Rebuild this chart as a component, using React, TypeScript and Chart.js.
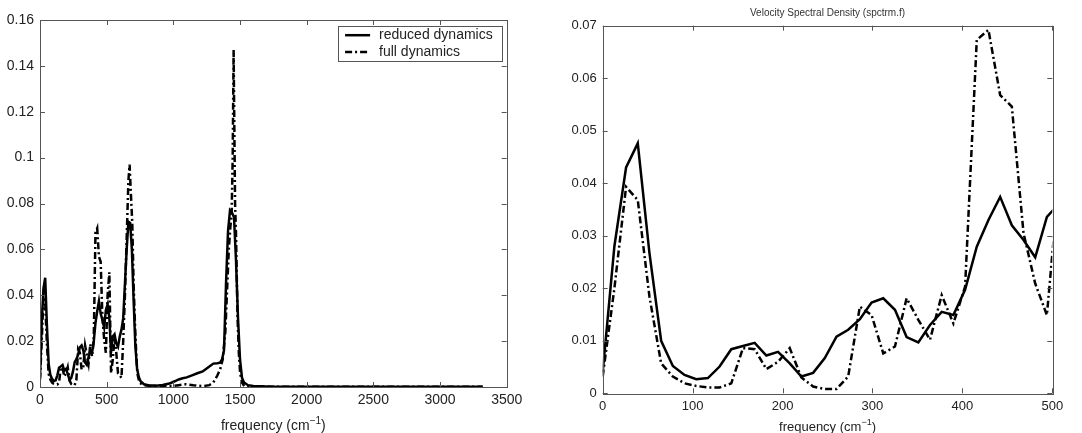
import React, { useEffect, useRef } from "react";
import { Chart, registerables } from "chart.js";

Chart.register(...registerables);

const FONT = "'Liberation Sans', Arial, Helvetica, sans-serif";

// reduced dynamics (solid)
const reducedFreq = [
  0, 13, 26, 39, 52, 65, 78, 91, 104, 117, 130, 143, 156, 169, 182, 195, 208, 221, 234, 247,
  260, 273, 286, 299, 312, 325, 338, 351, 364, 377, 390, 403, 416, 429, 442, 455, 468, 481, 494, 507,
  520, 533, 546, 559, 572, 585, 598, 611, 624, 637, 650, 663, 676, 689, 702, 715, 728, 741, 754, 780,
  820, 870, 920, 970, 1010, 1040, 1070, 1100, 1140, 1180, 1220, 1260, 1300, 1330, 1350, 1365, 1380, 1395,
  1410, 1425, 1440, 1455, 1470, 1485, 1500, 1515, 1530, 1560, 1600, 1700, 2000, 2500, 3000, 3320,
];
const reducedPsd = [
  0.004, 0.028, 0.043, 0.0476, 0.0267, 0.01, 0.0052, 0.0035, 0.0027, 0.0029, 0.0051, 0.0084, 0.009, 0.0096, 0.0072, 0.0079, 0.0057, 0.0032, 0.0039, 0.0067,
  0.0108, 0.0121, 0.0141, 0.0173, 0.0181, 0.0159, 0.0107, 0.0097, 0.013, 0.0155, 0.0149, 0.0197, 0.0279, 0.033, 0.0374, 0.032, 0.0292, 0.0259, 0.0336, 0.036,
  0.03, 0.015, 0.022, 0.023, 0.019, 0.0175, 0.022, 0.025, 0.03, 0.045, 0.06, 0.072, 0.0715, 0.06, 0.038, 0.018, 0.008, 0.0044, 0.0025, 0.0012,
  0.0007, 0.0006, 0.0009, 0.0015, 0.0025, 0.0033, 0.0038, 0.0042, 0.0051, 0.006, 0.0068, 0.0085, 0.0102, 0.0104, 0.0106, 0.012, 0.016, 0.045,
  0.068, 0.077, 0.076, 0.074, 0.055, 0.03, 0.012, 0.004, 0.002, 0.0008, 0.0004, 0.0002, 0.0001, 0.0001, 0.0001, 0.0001,
];

// full dynamics (dash-dot)
const fullFreq = [
  0, 13, 26, 39, 52, 65, 78, 91, 104, 117, 130, 143, 156, 169, 182, 195, 208, 221, 234, 247,
  260, 273, 286, 299, 312, 325, 338, 351, 364, 377, 390, 403, 416, 429, 442, 455, 468, 481, 494, 507,
  520, 533, 546, 559, 572, 585, 598, 611, 624, 637, 650, 663, 672, 681, 692, 702, 712, 722, 730, 745,
  767, 800, 850, 900, 950, 989, 1040, 1092, 1150, 1222, 1270, 1300, 1330, 1351, 1370, 1390, 1405, 1416,
  1428, 1437, 1445, 1452, 1458, 1463, 1470, 1481, 1491, 1501, 1515, 1532, 1600, 2000, 3320,
];
const fullPsd = [
  0.0032, 0.02, 0.0393, 0.0368, 0.0184, 0.0057, 0.0032, 0.0019, 0.0014, 0.0011, 0.0011, 0.0019, 0.0086, 0.0084, 0.0046, 0.006, 0.0086, 0.003, 0.0013, 0.0008,
  0.0008, 0.0032, 0.0165, 0.0149, 0.0076, 0.0089, 0.0181, 0.014, 0.0102, 0.0187, 0.0133, 0.0203, 0.0673, 0.0692, 0.0568, 0.0546, 0.0305, 0.0209, 0.0149, 0.04,
  0.05, 0.006, 0.012, 0.022, 0.015, 0.006, 0.005, 0.004, 0.02, 0.04, 0.065, 0.09, 0.097, 0.085, 0.0715, 0.045, 0.028, 0.014, 0.006, 0.002,
  0.001, 0.0006, 0.0004, 0.0004, 0.0005, 0.0004, 0.0008, 0.0012, 0.0008, 0.0004, 0.0008, 0.002, 0.005, 0.0077, 0.012, 0.024, 0.045, 0.06,
  0.07, 0.075, 0.1, 0.147, 0.11, 0.08, 0.067, 0.031, 0.015, 0.006, 0.002, 0.0004, 0.0002, 0.0001, 0.0001,
];

const seriesLabels = ["reduced dynamics", "full dynamics"];
const xTitleMain = "frequency (cm";
const xTitleSup = "\u22121";
const xTitleEnd = ")";
const rightTitle = "Velocity Spectral Density (spctrm.f)";

const leftX = { min: 0, max: 3500, step: 500 };
const leftY = { min: 0, max: 0.16, step: 0.02 };
const rightX = { min: 0, max: 500, step: 100 };
const rightY = { min: 0, max: 0.07, step: 0.01 };

const DASHDOT = [7, 3, 2, 3];

function makeDatasets() {
  return [
    {
      label: seriesLabels[0],
      data: reducedFreq.map((f, i) => ({ x: f, y: reducedPsd[i] })),
      borderColor: "#000",
      borderWidth: 2.5,
      pointRadius: 0,
      tension: 0,
      fill: false,
    },
    {
      label: seriesLabels[1],
      data: fullFreq.map((f, i) => ({ x: f, y: fullPsd[i] })),
      borderColor: "#000",
      borderWidth: 2.5,
      borderDash: DASHDOT,
      pointRadius: 0,
      tension: 0,
      fill: false,
    },
  ];
}

const framePlugin = {
  id: "frame",
  afterDatasetsDraw(chart: any) {
    const { ctx, chartArea } = chart;
    const { left, right, top, bottom } = chartArea;
    const x = chart.scales.x;
    const y = chart.scales.y;
    ctx.save();
    ctx.strokeStyle = "#555";
    ctx.lineWidth = 1;
    ctx.setLineDash([]);
    ctx.strokeRect(Math.round(left) + 0.5, Math.round(top) + 0.5, Math.round(right - left), Math.round(bottom - top));
    const L = 5;
    ctx.beginPath();
    x.ticks.forEach((t: any) => {
      const px = Math.round(x.getPixelForValue(t.value)) + 0.5;
      ctx.moveTo(px, bottom);
      ctx.lineTo(px, bottom - L);
      ctx.moveTo(px, top);
      ctx.lineTo(px, top + L);
    });
    y.ticks.forEach((t: any) => {
      const py = Math.round(y.getPixelForValue(t.value)) + 0.5;
      ctx.moveTo(left, py);
      ctx.lineTo(left + L, py);
      ctx.moveTo(right, py);
      ctx.lineTo(right - L, py);
    });
    ctx.stroke();
    ctx.restore();
  },
};

const xTitlePlugin = {
  id: "xTitle",
  afterDraw(chart: any, _a: any, opts: any) {
    const { ctx, chartArea } = chart;
    const size = opts.size || 13;
    ctx.save();
    ctx.fillStyle = "#222";
    ctx.textBaseline = "alphabetic";
    ctx.textAlign = "left";
    ctx.font = `${size}px ${FONT}`;
    const w1 = ctx.measureText(xTitleMain).width;
    const w3 = ctx.measureText(xTitleEnd).width;
    const supSize = Math.round(size * 0.72);
    ctx.font = `${supSize}px ${FONT}`;
    const w2 = ctx.measureText(xTitleSup).width;
    const total = w1 + w2 + w3;
    const cx = (chartArea.left + chartArea.right) / 2;
    const base = opts.baseline;
    let x0 = cx - total / 2;
    ctx.font = `${size}px ${FONT}`;
    ctx.fillText(xTitleMain, x0, base);
    ctx.font = `${supSize}px ${FONT}`;
    ctx.fillText(xTitleSup, x0 + w1, base - size * 0.45);
    ctx.font = `${size}px ${FONT}`;
    ctx.fillText(xTitleEnd, x0 + w1 + w2, base);
    ctx.restore();
  },
};

const legendPlugin = {
  id: "boxLegend",
  afterDraw(chart: any, _args: any, opts: any) {
    if (!opts || !opts.show) return;
    const { ctx, chartArea } = chart;
    const ds = chart.data.datasets;
    ctx.save();
    ctx.font = `14px ${FONT}`;
    const textW = Math.max(...ds.map((d: any) => ctx.measureText(d.label).width));
    const padL = 7, lineLen = 25, gap = 9, padR = 9, rowH = 16.7, padT = 1;
    const w = padL + lineLen + gap + textW + padR;
    const h = 35.3;
    const bx = chartArea.right - 5 - w;
    const by = chartArea.top + 5.7;
    ctx.fillStyle = "#fff";
    ctx.fillRect(bx, by, w, h);
    ctx.strokeStyle = "#555";
    ctx.lineWidth = 1;
    ctx.strokeRect(Math.round(bx) + 0.5, Math.round(by) + 0.5, Math.round(w), Math.round(h));
    ds.forEach((d: any, i: number) => {
      const cy = by + padT + 8.5 + i * rowH;
      ctx.strokeStyle = d.borderColor;
      ctx.lineWidth = d.borderWidth;
      ctx.setLineDash(d.borderDash || []);
      ctx.beginPath();
      ctx.moveTo(bx + padL, cy);
      ctx.lineTo(bx + padL + lineLen, cy);
      ctx.stroke();
      ctx.setLineDash([]);
      ctx.fillStyle = "#222";
      ctx.textBaseline = "middle";
      ctx.textAlign = "left";
      ctx.fillText(d.label, bx + padL + lineLen + gap, cy);
    });
    ctx.restore();
  },
};

function fmt(v: number) {
  return String(Number(v.toFixed(3)));
}

function buildConfig(kind: "left" | "right"): any {
  const isLeft = kind === "left";
  const xr = isLeft ? leftX : rightX;
  const yr = isLeft ? leftY : rightY;
  const yWidth = isLeft ? 40 : 62.7;
  const xHeight = isLeft ? 46 : 39.7;
  const fs = isLeft ? 14 : 13;
  return {
    type: "line",
    data: { datasets: makeDatasets() },
    plugins: [framePlugin, legendPlugin, xTitlePlugin],
    options: {
      responsive: false,
      animation: false,
      devicePixelRatio: 1,
      layout: {
        padding: isLeft
          ? { top: 20, right: 33.3, left: 0, bottom: 0 }
          : { top: 0, right: 29.7, left: 0, bottom: 0 },
      },
      plugins: {
        legend: { display: false },
        tooltip: { enabled: false },
        title: isLeft
          ? { display: false }
          : {
              display: true,
              text: rightTitle,
              fullSize: false,
              color: "#333",
              font: { size: 10, family: FONT, weight: "normal" },
              padding: { top: 7, bottom: 6.7 },
            },
        boxLegend: { show: isLeft },
        xTitle: { size: fs, baseline: isLeft ? 430 : 430.5 },
      },
      scales: {
        x: {
          type: "linear",
          min: xr.min,
          max: xr.max,
          afterFit: (s: any) => {
            s.height = xHeight;
          },
          ticks: {
            stepSize: xr.step,
            color: "#222",
            font: { size: fs, family: FONT },
            padding: 5,
            maxRotation: 0,
            autoSkip: false,
            callback: (v: number) => fmt(v),
          },
          grid: { display: false, drawTicks: false },
          border: { display: false },
          title: { display: false },
        },
        y: {
          type: "linear",
          min: yr.min,
          max: yr.max,
          afterFit: (s: any) => {
            s.width = yWidth;
          },
          ticks: {
            stepSize: yr.step,
            color: "#222",
            font: { size: fs, family: FONT },
            padding: 6,
            autoSkip: false,
            callback: (v: number) => fmt(v),
          },
          grid: { display: false, drawTicks: false },
          border: { display: false },
        },
      },
    },
  };
}

function SpectrumChart({ kind, width }: { kind: "left" | "right"; width: number }) {
  const ref = useRef<HTMLCanvasElement | null>(null);
  useEffect(() => {
    if (!ref.current) return;
    const chart = new Chart(ref.current, buildConfig(kind));
    return () => chart.destroy();
  }, [kind]);
  return <canvas ref={ref} width={width} height={433} style={{ width, height: 433, display: "block" }} />;
}

export default function App() {
  return (
    <div style={{ position: "absolute", left: 0, top: 0, width: 1082, height: 433, background: "#fff", overflow: "hidden" }}>
      <div style={{ position: "absolute", left: 0, top: 0, width: 540, height: 433 }}>
        <SpectrumChart kind="left" width={540} />
      </div>
      <div style={{ position: "absolute", left: 540, top: 0, width: 542, height: 433 }}>
        <SpectrumChart kind="right" width={542} />
      </div>
    </div>
  );
}
